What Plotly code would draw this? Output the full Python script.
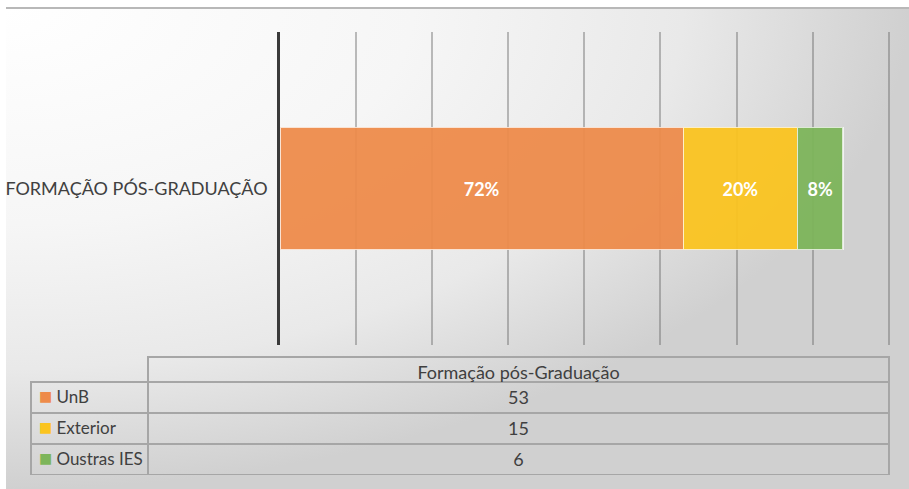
import base64
import plotly.graph_objects as go

# data
category = "FORMAÇÃO PÓS-GRADUAÇÃO"
table_title = "Formação pós-Graduação"
series = ["UnB", "Exterior", "Oustras IES"]
values = [53, 15, 6]
colors = ["#EE8B4A", "#FBC41F", "#7DB55A"]
x_max = 80
x_step = 10

W, H = 909, 489
total = sum(values)
FONT = "Lato"
TEXT_COL = "#404040"
BORDER = "#a6a6a6"
CLEAR = "rgba(0,0,0,0)"
NBSP = "\u00a0"

# radial gradient background (white top-left -> light grey elsewhere)
svg = (
    "<svg xmlns='http://www.w3.org/2000/svg' width='903' height='481' "
    "viewBox='0 0 903 481' preserveAspectRatio='none'>"
    "<defs><radialGradient id='g' cx='0' cy='0' r='1'>"
    "<stop offset='0' stop-color='#ffffff'/>"
    "<stop offset='0.45' stop-color='#f6f6f6'/>"
    "<stop offset='0.75' stop-color='#e9e9e9'/>"
    "<stop offset='1' stop-color='#d0d0d0'/>"
    "</radialGradient></defs>"
    "<rect width='903' height='481' fill='url(#g)'/></svg>"
)
bg_src = "data:image/svg+xml;base64," + base64.b64encode(svg.encode()).decode()

fig = go.Figure()

for name, val, col in zip(series, values, colors):
    fig.add_trace(
        go.Bar(
            x=[val],
            y=[category],
            orientation="h",
            name=name,
            marker=dict(color=col, opacity=0.94,
                        line=dict(color="rgba(255,255,255,0.75)", width=1.5)),
            text=[f"{round(val / total * 100)}%"],
            textposition="inside",
            insidetextanchor="middle",
            textfont=dict(color="white", size=18, family=FONT, weight="bold"),
            showlegend=False,
            hoverinfo="skip",
        )
    )

# data table below the chart
table_domain = dict(x=[31 / W, 889 / W], y=[1 - 476 / H, 1 - 357 / H])
col_widths = [117, 741]
fig.add_trace(
    go.Table(
        domain=table_domain,
        columnwidth=col_widths,
        header=dict(
            values=["", table_title],
            align=["left", "center"],
            height=25,
            fill=dict(color=CLEAR),
            line=dict(color=[CLEAR, BORDER], width=1.5),
            font=dict(family=FONT, size=18, color=TEXT_COL),
        ),
        cells=dict(
            values=[[NBSP * 4 + s.replace(" ", NBSP) for s in series],
                    [str(v) for v in values]],
            align=["left", "center"],
            height=31,
            fill=dict(color=CLEAR),
            line=dict(color=BORDER, width=1.5),
            font=dict(family=FONT, size=[17, 18], color=TEXT_COL),
        ),
    )
)
# coloured legend keys, overlaid on the first column
fig.add_trace(
    go.Table(
        domain=table_domain,
        columnwidth=col_widths,
        header=dict(
            values=["", ""],
            height=25,
            fill=dict(color=CLEAR),
            line=dict(color=CLEAR, width=1.5),
        ),
        cells=dict(
            values=[["■"] * len(series), [""] * len(series)],
            align="left",
            height=31,
            fill=dict(color=CLEAR),
            line=dict(color=CLEAR, width=1.5),
            font=dict(family="DejaVu Sans", size=14, color=[colors, CLEAR]),
        ),
    )
)

fig.update_layout(
    width=W,
    height=H,
    margin=dict(l=0, r=0, t=0, b=0),
    paper_bgcolor="#ffffff",
    plot_bgcolor=CLEAR,
    barmode="stack",
    bargap=0.61,
    font=dict(family=FONT, color=TEXT_COL),
    xaxis=dict(
        domain=[280 / W, 890 / W],
        range=[0, x_max * 1.002],
        dtick=x_step,
        showticklabels=False,
        showgrid=True,
        gridcolor="rgba(100,100,100,0.42)",
        gridwidth=1.5,
        zeroline=False,
        showline=False,
        fixedrange=True,
    ),
    yaxis=dict(
        domain=[1 - 345 / H, 1 - 32 / H],
        showline=True,
        linecolor="#3a3a3a",
        linewidth=2.5,
        ticks="",
        ticklabelstandoff=6,
        tickfont=dict(family=FONT, size=18, color=TEXT_COL),
        showgrid=False,
        automargin=False,
        fixedrange=True,
    ),
    images=[
        dict(
            source=bg_src,
            xref="paper", yref="paper",
            x=6 / W, y=1 - 8 / H,
            sizex=1 - 6 / W, sizey=1 - 8 / H,
            xanchor="left", yanchor="top",
            sizing="stretch",
            layer="below",
        )
    ],
    shapes=[
        dict(
            type="line", xref="paper", yref="paper",
            x0=6 / W, x1=1, y0=1 - 8 / H, y1=1 - 8 / H,
            line=dict(color="#b8b8b8", width=2),
        )
    ],
)

fig.write_html("out.html", config={"displayModeBar": False},
               post_script="document.body.style.margin='0px';")
